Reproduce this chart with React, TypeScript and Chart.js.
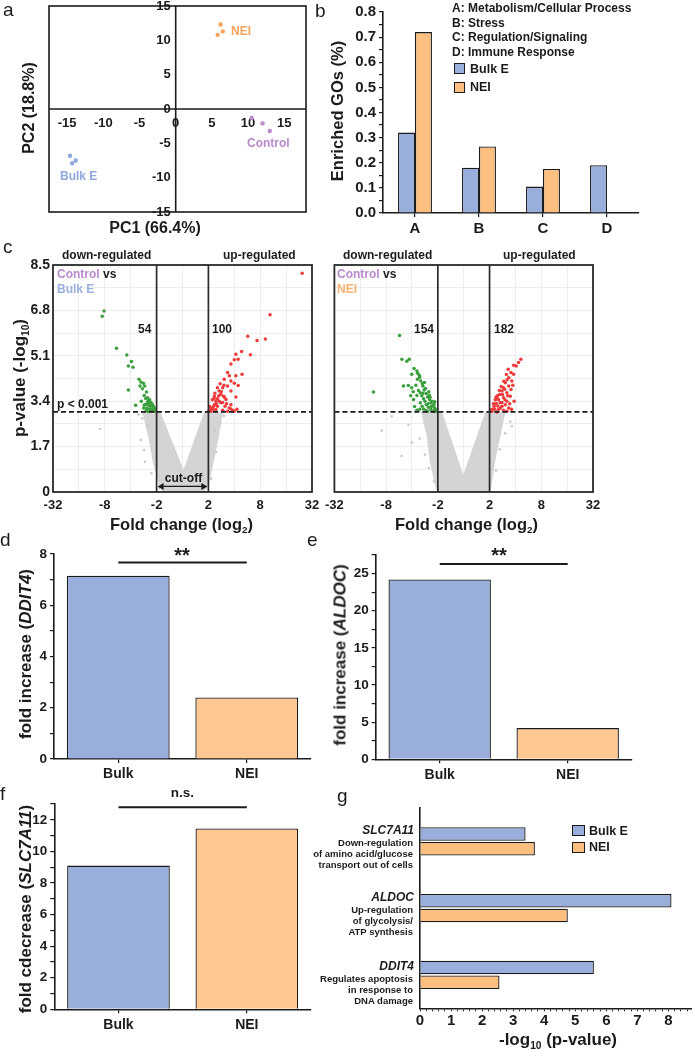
import React, { useEffect, useRef } from 'react';
import { Chart, registerables } from 'chart.js';

Chart.register(...registerables);

const FONT = "'Liberation Sans', Arial, Helvetica, sans-serif";
const INK = '#1b1b1b';
const BLUE = '#99AEDA';
const ORANGE = '#FDC891';
const ORANGE_GO = '#FCBF80';
const PT_BLUE = '#8EA7DC';
const PT_ORANGE = '#F6A45B';
const PURPLE = '#BA8ACD';
const GREEN = '#3A9F3C';
const RED = '#EE3B3B';
const CLOUD = '#D4D4D4';
const GRID = '#EDEDED';

type P = [number, number];
const xy = (pts: P[]) => pts.map(([x, y]) => ({ x, y }));

// ---------------- a: PCA ----------------
const pcaNEI: P[] = [[6.2, 12.3], [5.8, 10.8], [6.5, 11.3]];
const pcaControl: P[] = [[10.5, -1.3], [12.0, -2.1], [13.0, -3.2]];
const pcaBulkE: P[] = [[-14.6, -6.8], [-14.3, -7.9], [-13.8, -7.5]];
const pcaTicks = [-15, -10, -5, 0, 5, 10, 15];

// ---------------- b: enriched GOs ----------------
const goCategories = ['A', 'B', 'C', 'D'];
const goBulkE = [0.32, 0.18, 0.105, 0.19];
const goNEI = [0.72, 0.265, 0.175, null];

// ---------------- c: volcano plots ----------------
const volcanoGridT = [-5, -4, -3, -2, -1, 0, 1, 2, 3, 4, 5];
const volcanoTickValues = [-5, -3, -1, 1, 3, 5];
const volcanoTickLabels = ['-32', '-8', '-2', '2', '8', '32'];
const volcanoYGrid = [0, 0.85, 1.7, 2.55, 3.4, 4.25, 5.1, 5.95, 6.8, 7.65, 8.5];
const volcanoYTicks = [0, 1.7, 3.4, 5.1, 6.8, 8.5];
const foldCutoffT = [-1, 1];
const pCutoff = 3;
const volcanoYMax = 8.5;

const bulkDown: P[] = [
  [-3.03, 6.78], [-3.1, 6.58], [-2.55, 5.38], [-2.15, 5.13], [-1.97, 4.89], [-2.09, 4.72], [-1.91, 4.67],
  [-1.68, 4.22], [-1.61, 4.12], [-1.51, 4.07], [-1.46, 3.97], [-1.64, 3.97], [-1.55, 3.87], [-2.09, 3.82],
  [-1.39, 3.74], [-1.48, 3.61], [-1.35, 3.53], [-1.29, 3.44], [-1.23, 3.36], [-1.33, 3.31], [-1.16, 3.26],
  [-1.25, 3.21], [-1.81, 3.25], [-1.48, 3.26], [-1.1, 3.15], [-1.2, 3.11], [-1.14, 3.06], [-1.07, 3.02],
  [-1.29, 3.09], [-1.38, 3.15], [-1.59, 3.4], [-1.12, 3.2], [-1.18, 3.3], [-1.3, 3.25], [-1.35, 3.38],
  [-1.27, 3.45], [-1.42, 3.5], [-1.43, 3.28], [-1.05, 3.08], [-1.22, 3.04], [-1.33, 3.01], [-1.5, 3.15],
  [-1.4, 3.05],
];
const bulkUp: P[] = [
  [4.62, 8.19], [3.38, 6.64], [2.52, 5.83], [2.88, 5.67], [3.2, 5.73], [2.28, 5.26], [2.06, 5.16], [2.62, 5.14],
  [2.0, 4.95], [1.87, 4.79], [2.15, 4.97], [1.74, 4.47], [1.81, 4.35], [2.06, 4.35], [2.3, 4.41],
  [1.61, 4.22], [1.87, 4.16], [2.0, 4.07], [2.15, 3.99], [1.74, 3.97], [1.55, 3.9], [1.42, 3.78], [1.48, 3.65],
  [1.59, 3.59], [1.35, 3.49], [1.68, 3.46], [1.29, 3.4], [1.48, 3.34], [1.23, 3.27], [1.35, 3.21], [1.16, 3.15],
  [1.29, 3.09], [1.1, 3.02], [1.55, 3.06], [1.74, 3.02], [1.87, 3.11], [2.0, 3.02], [1.87, 3.27], [2.06, 3.56],
  [1.87, 3.78], [1.23, 3.59], [1.42, 3.4], [1.03, 3.06], [1.23, 3.06], [1.64, 3.21],
  [1.1, 3.1], [1.2, 3.2], [1.3, 3.3], [1.15, 3.45], [1.4, 3.6], [1.25, 3.7], [1.5, 3.75], [1.35, 3.9],
  [1.6, 4.0], [1.45, 4.05], [1.7, 3.3], [1.8, 3.15], [1.95, 3.05], [2.1, 3.1], [1.62, 3.55], [1.55, 3.35],
  [1.05, 3.2], [1.22, 3.5],
];
const bulkOther: P[] = [
  [-3.19, 2.36], [-1.48, 1.57], [-1.45, 1.13], [-1.61, 1.95], [-1.55, 2.75], [-1.7, 2.9], [-1.35, 2.5],
  [1.45, 2.6], [1.6, 2.85], [1.3, 1.5], [1.25, 2.3], [-1.2, 0.7], [1.1, 0.5], [-0.9, 0.15], [0.9, 0.2],
];
const bulkCloud: P[] = [
  [-0.72, 0], [-0.85, 0.25], [-1.1, 1.13], [-1.26, 2.0], [-1.49, 2.95], [-0.88, 2.95], [0.04, 0.7],
  [0.87, 2.95], [1.51, 2.95], [1.34, 2.0], [1.16, 1.13], [0.96, 0.25], [0.8, 0], [-0.72, 0],
];

const neiDown: P[] = [
  [-2.48, 5.86], [-2.39, 4.97], [-2.2, 4.9], [-2.11, 4.97], [-1.92, 4.62], [-1.81, 4.53], [-2.01, 4.41], [-1.72, 4.37],
  [-1.79, 4.22], [-1.66, 4.16], [-2.33, 3.97], [-2.14, 3.99], [-2.01, 3.9], [-1.58, 3.97], [-1.53, 3.82], [-1.68, 3.72],
  [-1.45, 3.69], [-1.81, 3.61], [-1.4, 3.56], [-1.55, 3.49], [-1.32, 3.46], [-1.68, 3.34], [-1.27, 3.34], [-1.45, 3.27],
  [-1.19, 3.24], [-1.36, 3.17], [-1.13, 3.15], [-1.55, 3.11], [-1.27, 3.09], [-1.08, 3.06], [-1.81, 3.06], [-1.19, 3.02],
  [-1.4, 3.02], [-3.49, 3.74], [-1.94, 3.46], [-1.61, 3.21],
  [-1.1, 3.1], [-1.15, 3.28], [-1.22, 3.4], [-1.3, 3.55], [-1.35, 3.75], [-1.48, 3.88], [-1.6, 4.05], [-1.7, 4.3],
  [-1.5, 3.4], [-1.62, 3.6], [-1.75, 3.8], [-1.25, 3.2], [-1.05, 3.02], [-1.7, 3.1], [-1.9, 3.2], [-2.05, 3.6],
  [-1.85, 4.0], [-1.38, 3.3], [-1.58, 3.7], [-1.45, 3.05], [-1.12, 3.38], [-1.33, 3.62], [-1.52, 4.1], [-1.78, 4.45],
  [-1.95, 3.75],
];
const neiUp: P[] = [
  [2.21, 4.97], [2.12, 4.85], [1.93, 4.75], [1.83, 4.47], [1.93, 4.41], [1.74, 4.28], [1.86, 4.16], [1.61, 4.09],
  [1.74, 3.97], [1.54, 3.9], [1.83, 3.84], [1.48, 3.78], [1.67, 3.72], [1.39, 3.65], [1.8, 3.59], [1.54, 3.53],
  [1.31, 3.49], [1.67, 3.4], [1.41, 3.34], [1.26, 3.31], [1.61, 3.27], [1.18, 3.21], [1.48, 3.21], [1.74, 3.15],
  [1.13, 3.11], [1.35, 3.09], [1.54, 3.06], [1.09, 3.02], [1.28, 3.0], [1.67, 3.02], [2.03, 4.72],
  [1.15, 3.3], [1.22, 3.45], [1.3, 3.6], [1.38, 3.8], [1.45, 3.95], [1.55, 4.15], [1.65, 4.4], [1.72, 4.6],
  [1.2, 3.1], [1.42, 3.15], [1.6, 3.45], [1.7, 3.6], [1.78, 3.3], [1.85, 3.1], [1.5, 3.65], [1.35, 3.45],
  [1.05, 3.08], [1.25, 3.55], [1.58, 3.85], [1.9, 4.0], [1.68, 4.2], [1.48, 3.35], [1.32, 3.22], [1.95, 3.4],
];
const neiOther: P[] = [
  [-2.78, 2.83], [-3.17, 2.3], [-2.01, 1.85], [-2.14, 2.52], [1.8, 2.64], [1.86, 2.46], [-1.7, 2.0],
  [-1.5, 1.4], [-1.35, 0.9], [1.6, 2.2], [1.4, 1.6], [1.25, 0.8], [-1.15, 0.4], [-2.4, 1.35],
];
const neiCloud: P[] = [
  [-0.97, 0], [-1.06, 0.25], [-1.26, 1.13], [-1.39, 2.14], [-1.59, 2.95], [-0.87, 2.95], [-0.02, 0.5],
  [0.87, 2.95], [1.55, 2.95], [1.35, 2.0], [1.16, 1.13], [1.03, 0.25], [0.98, 0], [-0.97, 0],
];

// ---------------- d, e, f: qPCR ----------------
const qpcrGroups = ['Bulk', 'NEI'];
const ddit4Fold = [7.15, 2.4];
const aldocFold = [24.2, 4.2];
const slc7a11Fold = [9.1, 11.45];
const ddit4SigLevel = 7.67;
const aldocSigLevel = 26.3;
const slc7a11SigLevel = 12.8;

// ---------------- g: -log10 p ----------------
const gGenes = ['SLC7A11', 'ALDOC', 'DDIT4'];
const gBulkE = [3.4, 8.1, 5.6];
const gNEI = [3.7, 4.76, 2.56];

// ---------------- helpers ----------------
const tickFont = (size: number) => ({ family: FONT, size, weight: 'bold' as const });
const isMultiple = (v: number, m: number) => Math.abs(v / m - Math.round(v / m)) < 1e-6;
const base = (padding: any) => ({
  responsive: false,
  animation: false as const,
  events: [] as any[],
  layout: { padding },
  plugins: { legend: { display: false }, tooltip: { enabled: false } },
});

const pcaFrame = {
  id: 'pcaFrame',
  beforeDatasetsDraw(chart: any) {
    const { ctx, chartArea: a, scales } = chart;
    const x = scales.x, y = scales.y;
    ctx.save();
    ctx.strokeStyle = INK;
    ctx.lineWidth = 1.6;
    ctx.strokeRect(a.left, a.top, a.right - a.left, a.bottom - a.top);
    const x0 = x.getPixelForValue(0), y0 = y.getPixelForValue(0);
    ctx.beginPath();
    ctx.moveTo(a.left, y0); ctx.lineTo(a.right, y0);
    ctx.moveTo(x0, a.top); ctx.lineTo(x0, a.bottom);
    ctx.stroke();
    ctx.fillStyle = INK;
    ctx.font = `bold 13px ${FONT}`;
    ctx.textAlign = 'center';
    ctx.textBaseline = 'middle';
    pcaTicks.forEach((v) => ctx.fillText(String(v), x.getPixelForValue(v), y0 + 14));
    ctx.textAlign = 'right';
    pcaTicks.forEach((v) => ctx.fillText(String(v), x0 - 5, y.getPixelForValue(v)));
    ctx.restore();
  },
};

function makePCA() {
  const pt = (data: P[], c: string) => ({ data: xy(data), backgroundColor: c, borderColor: c, pointRadius: 2.2, borderWidth: 0 });
  return {
    type: 'scatter',
    data: { datasets: [pt(pcaNEI, PT_ORANGE), pt(pcaControl, PURPLE), pt(pcaBulkE, PT_BLUE)] },
    options: {
      ...base({ left: 49, top: 6, right: 24, bottom: 28 }),
      scales: {
        x: { type: 'linear', min: -17.5, max: 18, display: false },
        y: { type: 'linear', min: -15, max: 15, display: false },
      },
    },
    plugins: [pcaFrame],
  };
}

function makeGO() {
  return {
    type: 'bar',
    data: {
      labels: goCategories,
      datasets: [
        { label: 'Bulk E', data: goBulkE, backgroundColor: BLUE, borderColor: INK, borderWidth: 1.3, categoryPercentage: 0.53, barPercentage: 1 },
        { label: 'NEI', data: goNEI, backgroundColor: ORANGE_GO, borderColor: INK, borderWidth: 1.3, categoryPercentage: 0.53, barPercentage: 1 },
      ],
    },
    options: {
      ...base({ left: 0, top: 7, right: 54, bottom: 0 }),
      scales: {
        x: {
          grid: { display: true, drawOnChartArea: false, offset: false, tickLength: 4, color: INK, lineWidth: 1.2 },
          border: { color: INK, width: 1.6 },
          ticks: { font: tickFont(15), color: INK, padding: 3 },
          afterFit: (s: any) => { s.height = 27; },
        },
        y: {
          min: 0, max: 0.8,
          ticks: { stepSize: 0.05, autoSkip: false, font: tickFont(15), color: INK, padding: 3,
            callback: (v: number) => (isMultiple(v, 0.1) ? v.toFixed(1) : '') },
          grid: { display: true, drawOnChartArea: false, tickLength: 4, color: INK, lineWidth: 1.2 },
          border: { color: INK, width: 1.6 },
          afterFit: (s: any) => { s.width = 53; },
        },
      },
    },
  };
}

const volcanoFrame = {
  id: 'volcanoFrame',
  afterDatasetsDraw(chart: any) {
    const { ctx, chartArea: a } = chart;
    ctx.save();
    ctx.strokeStyle = '#2a2a2a';
    ctx.lineWidth = 1.8;
    ctx.strokeRect(a.left, a.top, a.right - a.left, a.bottom - a.top);
    ctx.restore();
  },
};

const cutoffArrow = {
  id: 'cutoffArrow',
  afterDatasetsDraw(chart: any) {
    const { ctx, scales } = chart;
    const x1 = scales.x.getPixelForValue(-0.96), x2 = scales.x.getPixelForValue(0.96);
    const y = scales.y.getPixelForValue(0.21);
    ctx.save();
    ctx.strokeStyle = INK; ctx.fillStyle = INK; ctx.lineWidth = 1.4;
    ctx.beginPath(); ctx.moveTo(x1 + 3, y); ctx.lineTo(x2 - 3, y); ctx.stroke();
    ctx.beginPath(); ctx.moveTo(x1, y); ctx.lineTo(x1 + 6, y - 3.5); ctx.lineTo(x1 + 6, y + 3.5); ctx.closePath(); ctx.fill();
    ctx.beginPath(); ctx.moveTo(x2, y); ctx.lineTo(x2 - 6, y - 3.5); ctx.lineTo(x2 - 6, y + 3.5); ctx.closePath(); ctx.fill();
    ctx.restore();
  },
};

function makeVolcano(down: P[], up: P[], other: P[], cloud: P[], showY: boolean, pad: any, withArrow: boolean) {
  const line = (pts: P[], dash: number[] = []) => ({
    type: 'line', data: xy(pts), borderColor: dash.length ? INK : '#2a2a2a', borderWidth: 1.7, borderDash: dash,
    pointRadius: 0, fill: false, tension: 0,
  });
  const pts = (data: P[], c: string, r: number) => ({ type: 'scatter', data: xy(data), backgroundColor: c, borderColor: c, borderWidth: 0, pointRadius: r });
  return {
    type: 'scatter',
    data: {
      datasets: [
        line([[foldCutoffT[0], 0], [foldCutoffT[0], volcanoYMax]]),
        line([[foldCutoffT[1], 0], [foldCutoffT[1], volcanoYMax]]),
        line([[-5, pCutoff], [5, pCutoff]], [5, 3]),
        pts(up, RED, 1.75),
        pts(down, GREEN, 1.75),
        pts(other, '#C9C9C9', 1.3),
        { type: 'line', data: xy(cloud), backgroundColor: CLOUD, borderColor: CLOUD, borderWidth: 2.5, pointRadius: 0, fill: 'shape', tension: 0 },
      ],
    },
    options: {
      ...base(pad),
      scales: {
        x: {
          type: 'linear', min: -5, max: 5,
          afterBuildTicks: (s: any) => { s.ticks = volcanoGridT.map((v) => ({ value: v })); },
          ticks: {
            autoSkip: false, maxRotation: 0, font: tickFont(13), color: INK, padding: 6,
            callback: (v: number) => { const i = volcanoTickValues.indexOf(v); return i >= 0 ? volcanoTickLabels[i] : ''; },
          },
          grid: { color: GRID, drawTicks: false, lineWidth: 1 },
          border: { display: false },
          afterFit: (s: any) => { s.height = 38; },
        },
        y: {
          type: 'linear', min: 0, max: volcanoYMax,
          afterBuildTicks: (s: any) => { s.ticks = volcanoYGrid.map((v) => ({ value: v })); },
          ticks: {
            display: showY, autoSkip: false, font: tickFont(14), color: INK, padding: 3,
            callback: (v: number) => (volcanoYTicks.some((t) => Math.abs(t - v) < 1e-6) ? String(v) : ''),
          },
          grid: { color: GRID, drawTicks: false, lineWidth: 1 },
          border: { display: false },
          afterFit: (s: any) => { s.width = showY ? 53 : 0; },
        },
      },
    },
    plugins: withArrow ? [volcanoFrame, cutoffArrow] : [volcanoFrame],
  };
}

const makeVolcanoBulk = () => makeVolcano(bulkDown, bulkUp, bulkOther, bulkCloud, true, { left: 0, top: 25, right: 18, bottom: 0 }, true);
const makeVolcanoNEI = () => makeVolcano(neiDown, neiUp, neiOther, neiCloud, false, { left: 16.4, top: 25, right: 100, bottom: 0 }, false);

function makeQpcr(values: number[], sig: number, yMax: number, yStep: number, every: number, pad: any, yW: number, xH: number) {
  return {
    type: 'bar',
    data: {
      labels: qpcrGroups,
      datasets: [
        { type: 'line', data: [sig, sig], borderColor: INK, borderWidth: 2, pointRadius: 0, fill: false },
        { type: 'bar', data: values, backgroundColor: [BLUE, ORANGE], borderColor: INK, borderWidth: 1.3, categoryPercentage: 0.8, barPercentage: 1 },
      ],
    },
    options: {
      ...base(pad),
      scales: {
        x: {
          grid: { display: true, drawOnChartArea: false, offset: false, tickLength: 4, color: INK, lineWidth: 1.2 },
          border: { color: INK, width: 1.6 },
          ticks: { font: tickFont(14), color: INK, padding: 3 },
          afterFit: (s: any) => { s.height = xH; },
        },
        y: {
          min: 0, max: yMax,
          ticks: { stepSize: yStep, autoSkip: false, includeBounds: false, font: tickFont(13.5), color: INK, padding: 3,
            callback: (v: number) => (isMultiple(v, every) ? String(v) : '') },
          grid: { display: true, drawOnChartArea: false, tickLength: 4, color: INK, lineWidth: 1.2 },
          border: { color: INK, width: 1.6 },
          afterFit: (s: any) => { s.width = yW; },
        },
      },
    },
  };
}

const makeD = () => makeQpcr(ddit4Fold, ddit4SigLevel, 8, 1, 2, { left: 0, top: 24, right: 19, bottom: 0 }, 54, 21);
const makeE = () => makeQpcr(aldocFold, aldocSigLevel, 27.5, 2.5, 5, { left: 0, top: 25, right: 61.3, bottom: 0 }, 45.7, 20.7);
const makeF = () => makeQpcr(slc7a11Fold, slc7a11SigLevel, 13, 1, 2, { left: 0, top: 24, right: 19, bottom: 0 }, 54.3, 40.7);

function makeG() {
  return {
    type: 'bar',
    data: {
      labels: gGenes,
      datasets: [
        { label: 'Bulk E', data: gBulkE, backgroundColor: BLUE, borderColor: INK, borderWidth: 1.3, categoryPercentage: 0.44, barPercentage: 0.92 },
        { label: 'NEI', data: gNEI, backgroundColor: ORANGE_GO, borderColor: INK, borderWidth: 1.3, categoryPercentage: 0.44, barPercentage: 0.92 },
      ],
    },
    options: {
      ...base({ left: 0, top: 18, right: 1.3, bottom: 0 }),
      indexAxis: 'y',
      scales: {
        x: {
          min: 0, max: 8.75,
          ticks: { stepSize: 0.2, autoSkip: false, includeBounds: false, maxRotation: 0, font: tickFont(15), color: INK, padding: 1,
            callback: (v: number) => (isMultiple(v, 1) ? String(Math.round(v)) : '') },
          grid: { display: true, drawOnChartArea: false, tickLength: 3, color: INK, lineWidth: 1 },
          border: { color: INK, width: 1.6 },
          afterFit: (s: any) => { s.height = 41.7; },
        },
        y: {
          ticks: { display: false },
          grid: { display: true, drawOnChartArea: false, drawTicks: false },
          border: { color: INK, width: 1.6 },
          afterFit: (s: any) => { s.width = 80; },
        },
      },
    },
  };
}

function ChartBox({ left, top, width, height, make }: { left: number; top: number; width: number; height: number; make: () => any }) {
  const ref = useRef<HTMLCanvasElement | null>(null);
  useEffect(() => {
    if (!ref.current) return;
    const chart = new Chart(ref.current, make());
    return () => chart.destroy();
  }, [make]);
  return <canvas ref={ref} width={width} height={height} style={{ position: 'absolute', left, top, width, height }} />;
}

type TP = { x: number; y: number; a?: 'l' | 'c' | 'r'; s?: number; c?: string; w?: string; i?: boolean; rot?: boolean; children: React.ReactNode };
function T({ x, y, a = 'l', s = 12, c = INK, w = 'bold', i = false, rot = false, children }: TP) {
  const tx = rot ? '-50%' : a === 'l' ? '0' : a === 'c' ? '-50%' : '-100%';
  const style: React.CSSProperties = {
    position: 'absolute', left: x, top: y,
    transform: `translate(${tx},-50%)${rot ? ' rotate(-90deg)' : ''}`,
    font: `${i ? 'italic ' : ''}${w} ${s}px ${FONT}`,
    color: c, whiteSpace: 'nowrap', lineHeight: 1,
  };
  return <div style={style}>{children}</div>;
}

const Sub = ({ children }: { children: React.ReactNode }) => (
  <span style={{ fontSize: '0.6em', position: 'relative', top: '0.35em' }}>{children}</span>
);

function Box({ x, y, w, h, c }: { x: number; y: number; w: number; h: number; c: string }) {
  return <div style={{ position: 'absolute', left: x, top: y, width: w, height: h, background: c, border: `1.3px solid ${INK}`, boxSizing: 'border-box' }} />;
}

export default function App() {
  return (
    <div style={{ position: 'absolute', left: 0, top: 0, width: 693, height: 1050, background: '#fff', overflow: 'hidden' }}>
      <ChartBox left={0} top={0} width={330} height={240} make={makePCA} />
      <ChartBox left={330} top={0} width={363} height={240} make={makeGO} />
      <ChartBox left={0} top={240} width={330} height={290} make={makeVolcanoBulk} />
      <ChartBox left={318} top={240} width={375} height={290} make={makeVolcanoNEI} />
      <ChartBox left={0} top={530} width={330} height={250} make={makeD} />
      <ChartBox left={330} top={530} width={363} height={250} make={makeE} />
      <ChartBox left={0} top={780} width={330} height={270} make={makeF} />
      <ChartBox left={340} top={790} width={353} height={260} make={makeG} />

      {/* panel letters */}
      <T x={3} y={9} s={19} w="normal">a</T>
      <T x={315} y={10} s={19} w="normal">b</T>
      <T x={3} y={246} s={19} w="normal">c</T>
      <T x={0} y={539} s={19} w="normal">d</T>
      <T x={307} y={539} s={19} w="normal">e</T>
      <T x={0} y={793} s={19} w="normal">f</T>
      <T x={337} y={795} s={19} w="normal">g</T>

      {/* a */}
      <T x={155} y={228} a="c" s={16}>PC1 (66.4%)</T>
      <T x={29} y={108} rot s={16}>PC2 (18.8%)</T>
      <T x={231} y={31} c={PT_ORANGE}>NEI</T>
      <T x={247} y={143} c={PURPLE}>Control</T>
      <T x={60} y={176} c={PT_BLUE}>Bulk E</T>

      {/* b */}
      <T x={337} y={111} rot s={16.5}>Enriched GOs (%)</T>
      <T x={452} y={8}>A: Metabolism/Cellular Process</T>
      <T x={452} y={22.7}>B: Stress</T>
      <T x={452} y={37.3}>C: Regulation/Signaling</T>
      <T x={452} y={51.7}>D: Immune Response</T>
      <Box x={454} y={63} w={11} h={11} c={BLUE} />
      <T x={470} y={69} s={12.5}>Bulk E</T>
      <Box x={454} y={81.5} w={11} h={11} c={ORANGE_GO} />
      <T x={470} y={87} s={12.5}>NEI</T>

      {/* c */}
      <T x={62} y={255}>down-regulated</T>
      <T x={223} y={255}>up-regulated</T>
      <T x={343} y={255}>down-regulated</T>
      <T x={503} y={255}>up-regulated</T>
      <T x={57} y={274}><span style={{ color: PURPLE }}>Control</span> vs</T>
      <T x={57} y={289} c="#9AB0E0">Bulk E</T>
      <T x={337} y={274}><span style={{ color: PURPLE }}>Control</span> vs</T>
      <T x={337} y={289} c="#F9B26B">NEI</T>
      <T x={138} y={329}>54</T>
      <T x={212} y={329}>100</T>
      <T x={414} y={329}>154</T>
      <T x={494} y={329}>182</T>
      <T x={57} y={404}>p &lt; 0.001</T>
      <T x={183.5} y={478} a="c">cut-off</T>
      <T x={19} y={378} rot s={17}>p-value (-log<Sub>10</Sub>)</T>
      <T x={181.5} y={524} a="c" s={16.5}>Fold change (log<Sub>2</Sub>)</T>
      <T x={466.5} y={524} a="c" s={16.5}>Fold change (log<Sub>2</Sub>)</T>

      {/* d, e, f */}
      <T x={182} y={555} a="c" s={20}>**</T>
      <T x={499} y={555} a="c" s={20}>**</T>
      <T x={182.5} y={793} a="c" s={13.5}>n.s.</T>
      <T x={24.5} y={654} rot s={17}>fold increase (<i>DDIT4</i>)</T>
      <T x={340} y={655} rot s={17}>fold increase (<i>ALDOC</i>)</T>
      <T x={24.5} y={909} rot s={17}>fold cdecrease (<i>SLC7A11</i>)</T>

      {/* g */}
      <T x={414} y={829.5} a="r" i>SLC7A11</T>
      <T x={413} y={843} a="r" s={9.5}>Down-regulation</T>
      <T x={413} y={853.5} a="r" s={9.5}>of amino acid/glucose</T>
      <T x={413} y={864.5} a="r" s={9.5}>transport out of cells</T>
      <T x={414} y={897} a="r" i>ALDOC</T>
      <T x={413} y={909.5} a="r" s={9.5}>Up-regulation</T>
      <T x={413} y={921} a="r" s={9.5}>of glycolysis/</T>
      <T x={413} y={932} a="r" s={9.5}>ATP synthesis</T>
      <T x={414} y={966} a="r" i>DDIT4</T>
      <T x={413} y={979} a="r" s={9.5}>Regulates apoptosis</T>
      <T x={413} y={990} a="r" s={9.5}>in response to</T>
      <T x={413} y={1001} a="r" s={9.5}>DNA damage</T>
      <Box x={572} y={825} w={13} h={11} c={BLUE} />
      <T x={589} y={831} s={12.5}>Bulk E</T>
      <Box x={572} y={841.5} w={13} h={11} c={ORANGE_GO} />
      <T x={589} y={847} s={12.5}>NEI</T>
      <T x={558} y={1039} a="c" s={17}>-log<Sub>10</Sub> (p-value)</T>
    </div>
  );
}
